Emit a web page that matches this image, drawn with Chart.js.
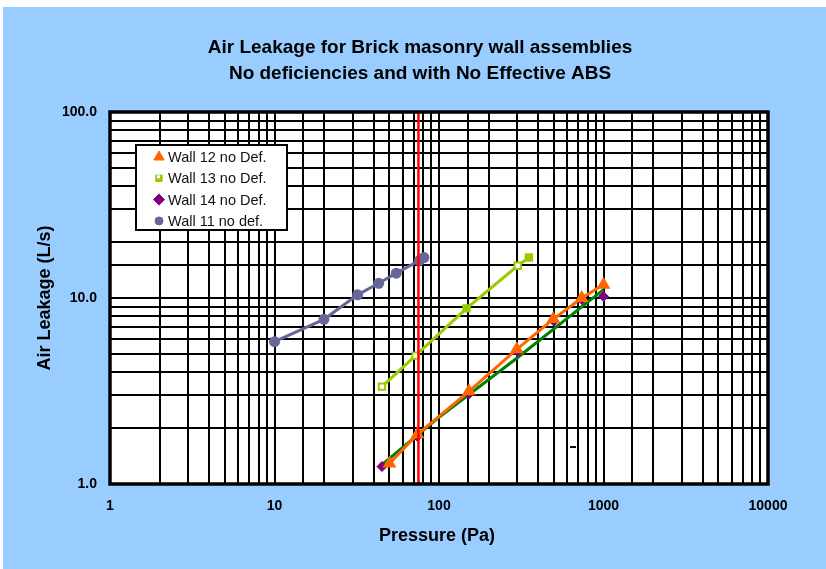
<!DOCTYPE html>
<html>
<head>
<meta charset="utf-8">
<script src="https://cdn.jsdelivr.net/npm/chart.js@4"></script>
<style>
  html, body { margin: 0; padding: 0; background: #fff; }
  #wrap { width: 826px; height: 569px; position: relative; }
</style>
</head>
<body>
<div id="wrap"><canvas id="chart" width="826" height="569"></canvas></div>
<script>
// ---------------- data ----------------
const titleLines = ["Air Leakage for Brick masonry wall assemblies", "No deficiencies and with No Effective ABS"];
const xTitle = "Pressure (Pa)";
const yTitle = "Air Leakage (L/s)";

const xMajorTicks = [1, 10, 100, 1000, 10000];
const yMajorTicks = [1, 10, 100];

// Wall 12 no Def. (orange triangles)
const wall12X = [50, 74, 152, 297, 495, 737, 1000];
const wall12Y = [1.29, 1.85, 3.15, 5.3, 7.7, 10.0, 11.8];

// Wall 13 no Def. (green squares)
const wall13X = [45, 72, 147, 301, 352];
const wall13Y = [3.34, 4.9, 8.8, 14.9, 16.5];
const wall13Hollow = [true, true, false, true, false];

// Wall 14 no Def. (purple diamonds)
const wall14X = [45, 74, 152, 300, 500, 740, 1000];
const wall14Y = [1.24, 1.8, 3.05, 5.15, 7.5, 9.8, 10.2];

// dark green line under Wall 12 / 14
const greenX = [45, 101, 297, 1000];
const greenY = [1.27, 2.3, 4.74, 11.1];

// Wall 11 no def. (grey-blue circles)
const wall11X = [10, 20, 32, 43, 55, 76, 81];
const wall11Y = [5.82, 7.68, 10.4, 12.0, 13.6, 15.9, 16.5];

// red vertical marker at 75 Pa
const redX = [75, 75];
const redY = [1, 100];

// stray small dash
const dashX = [653];
const dashY = [1.58];

const pts = (xs, ys) => xs.map((x, i) => ({ x: x, y: ys[i] }));

// ---------------- plugins ----------------
const BLUE = "#99CCFF";
const FONT = "'Liberation Sans', Arial, sans-serif";

const backdrop = {
  id: "backdrop",
  beforeDraw(chart) {
    const ctx = chart.ctx;
    const a = chart.chartArea;
    ctx.save();
    ctx.fillStyle = "#fff";
    ctx.fillRect(0, 0, chart.width, chart.height);
    ctx.fillStyle = BLUE;
    ctx.fillRect(3, 7, chart.width - 3, chart.height - 7);
    ctx.fillStyle = "#fff";
    ctx.fillRect(a.left, a.top, a.right - a.left, a.bottom - a.top);
    ctx.restore();
  },
  afterDraw(chart) {
    const ctx = chart.ctx;
    const a = chart.chartArea;
    ctx.save();
    // frame
    ctx.strokeStyle = "#000";
    ctx.lineWidth = 3.5;
    ctx.strokeRect(a.left, a.top, a.right - a.left, a.bottom - a.top);

    // titles
    ctx.fillStyle = "#000";
    ctx.textAlign = "center";
    ctx.textBaseline = "middle";
    ctx.font = "bold 19px " + FONT;
    ctx.fillText(titleLines[0], 420, 48);
    ctx.fillText(titleLines[1], 420, 74);

    ctx.font = "bold 18px " + FONT;
    ctx.fillText(xTitle, 437, 536);
    ctx.save();
    ctx.translate(45, 298);
    ctx.rotate(-Math.PI / 2);
    ctx.fillText(yTitle, 0, 0);
    ctx.restore();

    // legend box
    ctx.fillStyle = "#fff";
    ctx.fillRect(136, 145, 151, 85);
    ctx.lineWidth = 2;
    ctx.strokeStyle = "#000";
    ctx.strokeRect(136, 145, 151, 85);
    const items = chart.data.datasets.filter(d => d.inLegend);
    items.forEach((d, i) => {
      const y = 157 + i * 21.3;
      ctx.fillStyle = d.legendFill;
      ctx.strokeStyle = d.pointBorderColor;
      ctx.lineWidth = 1;
      Chart.helpers.drawPoint(ctx, { pointStyle: d.pointStyle, radius: d.legendRadius, borderWidth: 1, rotation: 0 }, 159, y);
      if (d.legendNotch) {
        ctx.fillStyle = "#fff";
        ctx.fillRect(157, y - 3, 3, 3);
      }
      ctx.fillStyle = "#111";
      ctx.textAlign = "left";
      ctx.font = "14.5px " + FONT;
      ctx.fillText(d.label, 168, y + 1);
    });
    ctx.restore();
  }
};

// ---------------- chart ----------------
const tickFont = { family: FONT, size: 14, weight: "bold" };

new Chart(document.getElementById("chart"), {
  type: "scatter",
  data: {
    datasets: [
      {
        label: "red marker",
        data: pts(redX, redY),
        showLine: true,
        borderColor: "#FF0000",
        borderWidth: 2.5,
        pointRadius: 0
      },
      {
        label: "Wall 12 no Def.",
        inLegend: true,
        data: pts(wall12X, wall12Y),
        showLine: true,
        borderColor: "#FF6600",
        borderWidth: 3,
        pointStyle: "triangle",
        pointRadius: 5,
        legendRadius: 6,
        legendFill: "#FF6600",
        pointBackgroundColor: "#FF6600",
        pointBorderColor: "#FF6600"
      },
      {
        label: "Wall 13 no Def.",
        inLegend: true,
        data: pts(wall13X, wall13Y),
        showLine: true,
        borderColor: "#99CC00",
        borderWidth: 3,
        pointStyle: "rect",
        pointRadius: 4.5,
        legendRadius: 4.5,
        legendFill: "#99CC00",
        legendNotch: true,
        pointBorderWidth: 2,
        pointBackgroundColor: wall13Hollow.map(h => h ? "#fff" : "#99CC00"),
        pointBorderColor: "#99CC00"
      },
      {
        label: "Wall 14 no Def.",
        inLegend: true,
        data: pts(wall14X, wall14Y),
        showLine: false,
        pointStyle: "rectRot",
        pointRadius: 5,
        legendRadius: 5.5,
        legendFill: "#800080",
        pointBackgroundColor: "#800080",
        pointBorderColor: "#800080"
      },
      {
        label: "green line",
        data: pts(greenX, greenY),
        showLine: true,
        borderColor: "#008000",
        borderWidth: 3,
        pointRadius: 0
      },
      {
        label: "Wall 11 no def.",
        inLegend: true,
        data: pts(wall11X, wall11Y),
        showLine: true,
        borderColor: "#666699",
        borderWidth: 3,
        pointStyle: "circle",
        pointRadius: 4,
        legendRadius: 4,
        legendFill: "#666699",
        pointBackgroundColor: "#666699",
        pointBorderColor: "#666699"
      },
      {
        label: "dash",
        data: pts(dashX, dashY),
        showLine: false,
        pointStyle: "line",
        pointRadius: 3,
        borderWidth: 2,
        pointBorderColor: "#000",
        pointBorderWidth: 2
      }
    ]
  },
  options: {
    responsive: false,
    animation: false,
    layout: { padding: { left: 0, top: 112, right: 58, bottom: 0 } },
    plugins: {
      legend: { display: false },
      title: { display: false },
      tooltip: { enabled: false }
    },
    scales: {
      x: {
        type: "logarithmic",
        min: 1,
        max: 10000,
        afterFit(scale) { scale.height = 85; },
        border: { display: false },
        grid: { color: "#000", lineWidth: 2, drawTicks: false },
        ticks: {
          autoSkip: false,
          maxRotation: 0,
          padding: 14,
          color: "#000",
          font: tickFont,
          callback: v => xMajorTicks.includes(v) ? String(v) : ""
        }
      },
      y: {
        type: "logarithmic",
        min: 1,
        max: 100,
        afterFit(scale) { scale.width = 110; },
        border: { display: false },
        grid: { color: "#000", lineWidth: 2, drawTicks: false },
        ticks: {
          autoSkip: false,
          padding: 13,
          color: "#000",
          font: tickFont,
          callback: v => yMajorTicks.includes(v) ? v.toFixed(1) : ""
        }
      }
    }
  },
  plugins: [backdrop]
});
</script>
</body>
</html>
